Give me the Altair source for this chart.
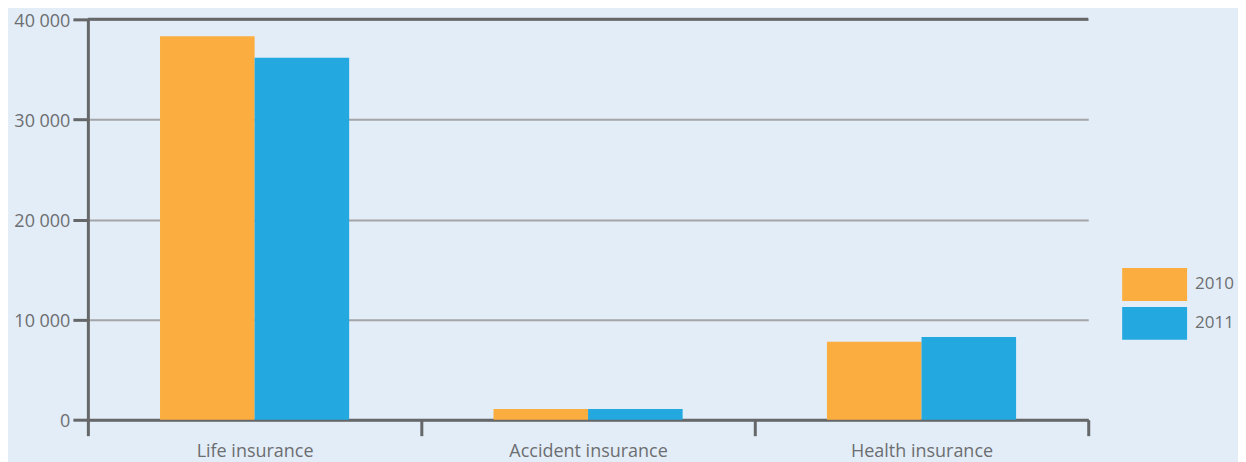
import altair as alt
import pandas as pd

categories = ["Life insurance", "Accident insurance", "Health insurance"]
years = ["2010", "2011"]
values_2010 = [38300, 1060, 7800]
values_2011 = [36170, 1070, 8260]
y_ticks = [0, 10000, 20000, 30000, 40000]

rows = []
for c, a, b in zip(categories, values_2010, values_2011):
    rows.append({"category": c, "year": "2010", "value": a})
    rows.append({"category": c, "year": "2011", "value": b})
df = pd.DataFrame(rows)

AX = "#666769"
GRID = "#a3a5a8"
TXT = "#6d6e71"
FONT = "Open Sans"

bars = alt.Chart(df).mark_bar().encode(
    x=alt.X("category:N", sort=categories,
            scale=alt.Scale(paddingInner=0, paddingOuter=0),
            axis=alt.Axis(title=None, labelAngle=0, tickBand="extent",
                          tickSize=16, tickWidth=3, tickColor=AX,
                          domainColor=AX, domainWidth=3,
                          labelFont=FONT, labelFontSize=18, labelColor=TXT,
                          labelPadding=7, grid=False)),
    xOffset=alt.XOffset("year:N", scale=alt.Scale(paddingInner=0, paddingOuter=0.763)),
    y=alt.Y("value:Q", scale=alt.Scale(domain=[0, 40000], nice=False),
            axis=alt.Axis(title=None, values=y_ticks,
                          labelExpr="replace(format(datum.value, ','), ',', ' ')",
                          tickSize=15, tickWidth=3, tickColor=AX,
                          domainColor=AX, domainWidth=3,
                          gridColor=GRID, gridWidth=2,
                          labelFont=FONT, labelFontSize=18, labelColor=TXT,
                          labelPadding=3, labelOffset=2)),
    color=alt.Color("year:N", scale=alt.Scale(domain=years, range=["#fbae3f", "#23a8e0"]),
                    legend=alt.Legend(title=None, orient="none", legendX=1052, legendY=249,
                                      symbolType="M-1.97,-1H1.97V1H-1.97Z",
                                      symbolSize=1089, symbolStrokeWidth=0,
                                      symbolOpacity=1, rowPadding=6,
                                      labelOffset=24, padding=0,
                                      labelFont=FONT, labelFontSize=17, labelColor=TXT)),
)

top = alt.Chart(pd.DataFrame({"v": [40000]})).mark_rule(color=AX, strokeWidth=3).encode(
    y=alt.Y("v:Q")
)

chart = alt.layer(bars, top).properties(
    width=1002, height=401,
    autosize=alt.AutoSizeParams(type="none"),
    padding={"left": 80, "top": 11, "right": 150, "bottom": 42},
    background="#e2edf7",
).configure_view(stroke=None)

chart.save("out.html", embed_options={"renderer": "svg", "actions": False})
